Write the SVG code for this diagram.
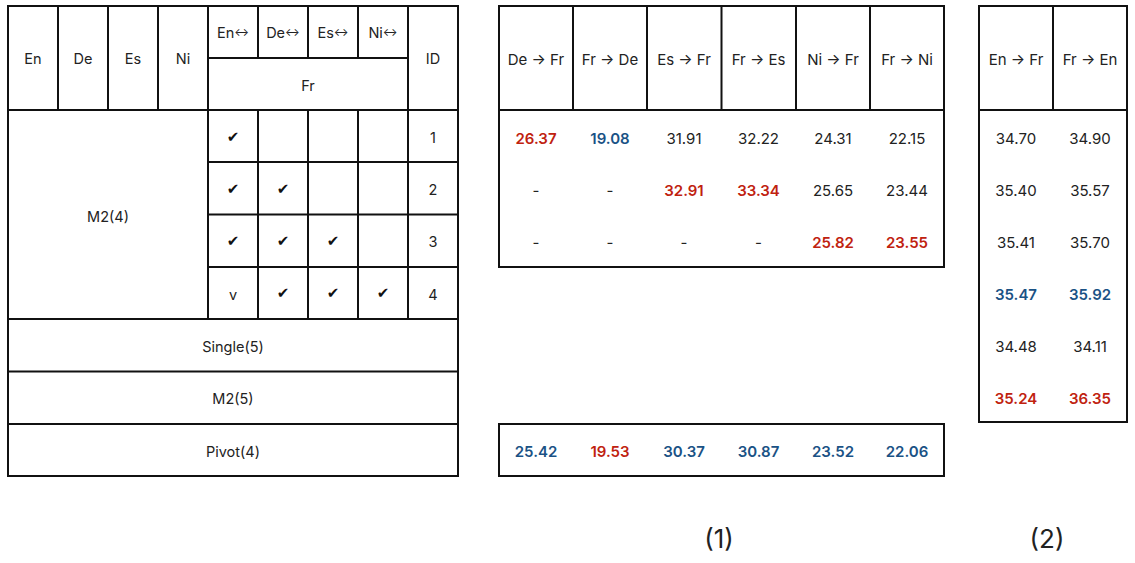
<svg xmlns="http://www.w3.org/2000/svg" width="1135" height="563" viewBox="0 0 1135 563">
<style>
.ln{stroke:#111;stroke-width:2;fill:none}
.bx{stroke:#111;stroke-width:2;fill:#fff}
text{font-family:"Inter","Noto Sans","Liberation Sans",sans-serif;font-size:15px;fill:#222;text-anchor:middle;dominant-baseline:central}
.h{font-size:14.5px}
.r{fill:#c0220f;font-weight:600}
.b{fill:#1a5285;font-weight:600}
.ck{font-family:"DejaVu Sans",sans-serif;font-size:15px;fill:#111}
.ar{font-size:11px}
.big{font-size:26px;fill:#222}
</style>
<rect width="1135" height="563" fill="#fff"/>
<g id="left-table">
<rect class="bx" x="8" y="6" width="450" height="470"/>
<path class="ln" d="M58 6V110M108 6V110M158 6V110M208 6V319M258 6V58M308 6V58M358 6V58M408 6V319M258 110V319M308 110V319M358 110V319M208 58H408M8 110H458M208 162H458M208 214.5H458M208 267H458M8 319H458M8 371.5H458M8 424H458"/>
<text class="h" x="33" y="58">En</text>
<text class="h" x="83" y="58">De</text>
<text class="h" x="133" y="58">Es</text>
<text class="h" x="183" y="58">Ni</text>
<text class="h" x="233" y="32">En<tspan class="ar">↔</tspan></text>
<text class="h" x="283" y="32">De<tspan class="ar">↔</tspan></text>
<text class="h" x="333" y="32">Es<tspan class="ar">↔</tspan></text>
<text class="h" x="383" y="32">Ni<tspan class="ar">↔</tspan></text>
<text class="h" x="308" y="85">Fr</text>
<text class="h" x="433" y="58">ID</text>
<text class="h" x="108" y="216">M2(4)</text>
<text class="ck" x="233" y="137">✔</text>
<text class="ck" x="233" y="189">✔</text>
<text class="ck" x="283" y="189">✔</text>
<text class="ck" x="233" y="241">✔</text>
<text class="ck" x="283" y="241">✔</text>
<text class="ck" x="333" y="241">✔</text>
<text class="h" x="233" y="294">v</text>
<text class="ck" x="283" y="293">✔</text>
<text class="ck" x="333" y="293">✔</text>
<text class="ck" x="383" y="293">✔</text>
<text class="h" x="433" y="137">1</text>
<text class="h" x="433" y="189">2</text>
<text class="h" x="433" y="241">3</text>
<text class="h" x="433" y="294">4</text>
<text class="h" x="233" y="346">Single(5)</text>
<text class="h" x="233" y="398">M2(5)</text>
<text class="h" x="233" y="451">Pivot(4)</text>
</g>
<g id="middle-table">
<rect class="bx" x="499" y="6" width="445" height="261"/>
<path class="ln" d="M573 6V110M647 6V110M721.5 6V110M796 6V110M870 6V110M499 110H944"/>
<text x="536" y="59">De → Fr</text>
<text x="610" y="59">Fr → De</text>
<text x="684" y="59">Es → Fr</text>
<text x="758.5" y="59">Fr → Es</text>
<text x="833" y="59">Ni → Fr</text>
<text x="907" y="59">Fr → Ni</text>
<text class="r" x="536" y="138">26.37</text>
<text class="b" x="610" y="138">19.08</text>
<text x="684" y="138">31.91</text>
<text x="758.5" y="138">32.22</text>
<text x="833" y="138">24.31</text>
<text x="907" y="138">22.15</text>
<text x="536" y="190">-</text>
<text x="610" y="190">-</text>
<text class="r" x="684" y="190">32.91</text>
<text class="r" x="758.5" y="190">33.34</text>
<text x="833" y="190">25.65</text>
<text x="907" y="190">23.44</text>
<text x="536" y="242">-</text>
<text x="610" y="242">-</text>
<text x="684" y="242">-</text>
<text x="758.5" y="242">-</text>
<text class="r" x="833" y="242">25.82</text>
<text class="r" x="907" y="242">23.55</text>
</g>
<g id="pivot-row">
<rect class="bx" x="499" y="424" width="445" height="52"/>
<text class="b" x="536" y="451">25.42</text>
<text class="r" x="610" y="451">19.53</text>
<text class="b" x="684" y="451">30.37</text>
<text class="b" x="758.5" y="451">30.87</text>
<text class="b" x="833" y="451">23.52</text>
<text class="b" x="907" y="451">22.06</text>
</g>
<g id="right-table">
<rect class="bx" x="979" y="6" width="148" height="416"/>
<path class="ln" d="M1053 6V110M979 110H1127"/>
<text x="1016" y="59">En → Fr</text>
<text x="1090" y="59">Fr → En</text>
<text x="1016" y="138">34.70</text>
<text x="1090" y="138">34.90</text>
<text x="1016" y="190">35.40</text>
<text x="1090" y="190">35.57</text>
<text x="1016" y="242">35.41</text>
<text x="1090" y="242">35.70</text>
<text class="b" x="1016" y="294">35.47</text>
<text class="b" x="1090" y="294">35.92</text>
<text x="1016" y="346">34.48</text>
<text x="1090" y="346">34.11</text>
<text class="r" x="1016" y="398">35.24</text>
<text class="r" x="1090" y="398">36.35</text>
</g>
<g id="captions">
<text class="big" x="719" y="538">(1)</text>
<text class="big" x="1047" y="538">(2)</text>
</g>
</svg>
